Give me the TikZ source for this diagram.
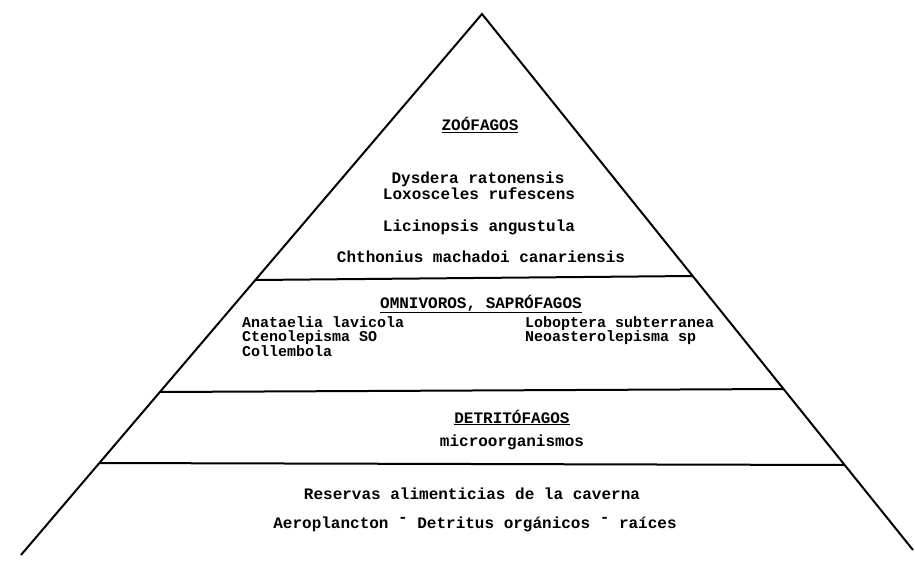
\documentclass[tikz,border=0pt]{standalone}
\usepackage{fontspec}
\setmainfont{Liberation Mono}
\begin{document}
\begin{tikzpicture}[x=1pt,y=-1pt,
  edge/.style={line width=2pt,line join=miter},
  sep/.style={line width=2pt},
  txt/.style={anchor=base,inner sep=0pt,font=\fontsize{16}{16}\selectfont\bfseries},
  col/.style={anchor=base west,inner sep=0pt,align=left,font=\fontsize{15}{14.5}\selectfont\bfseries}]
\useasboundingbox (0,0) rectangle (915,564);
\coordinate (apex) at (482,14);
\coordinate (bl) at (21,555);
\coordinate (br) at (913,550);
\coordinate (l1a) at (255.4,280);
\coordinate (l1b) at (692.6,276);
\coordinate (l2a) at (159.9,392);
\coordinate (l2b) at (783.5,389);
\coordinate (l3a) at (99.5,463);
\coordinate (l3b) at (844.6,465);
\draw[edge] (bl) -- (apex) -- (br);
\draw[sep] (l1a) -- (l1b);
\draw[sep] (l2a) -- (l2b);
\draw[sep] (l3a) -- (l3b);
% Zoofagos
\node[txt] (zh) at (480,131) {\underline{ZOÓFAGOS}};
\node[txt] (z1) at (478,184) {Dysdera ratonensis};
\node[txt] (z2) at (479,200) {Loxosceles rufescens};
\node[txt] (z3) at (479,231) {Licinopsis angustula};
\node[txt] (z4) at (481,262) {Chthonius machadoi canariensis};
% Omnivoros
\node[txt] (oh) at (481,308) {\underline{OMNIVOROS, SAPRÓFAGOS}};
\node[col] (ol) at (242,356) {Anataelia lavicola\\Ctenolepisma SO\\Collembola};
\node[col] (or) at (525,341.5) {Loboptera subterranea\\Neoasterolepisma sp};
% Detritofagos
\node[txt] (dh) at (512,423) {\underline{DETRITÓFAGOS}};
\node[txt] (d1) at (512,446) {microorganismos};
% Reservas
\node[txt] (r1) at (472,499) {Reservas alimenticias de la caverna};
\node[txt] (r2) at (475,528) {Aeroplancton \raisebox{0.35em}{-} Detritus orgánicos \raisebox{0.35em}{-} raíces};
\end{tikzpicture}
\end{document}
